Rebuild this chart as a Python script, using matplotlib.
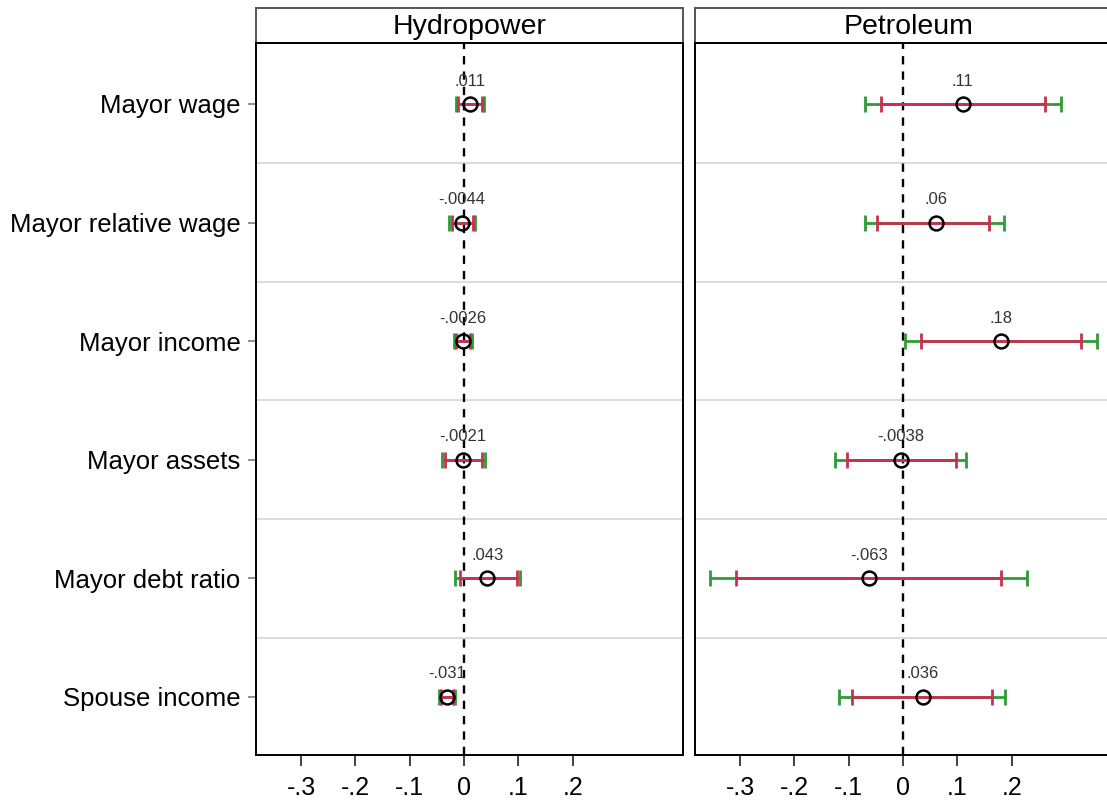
import matplotlib.pyplot as plt
import numpy as np

plt.rcParams['font.family'] = ['Liberation Sans', 'DejaVu Sans']

outcomes = ["Mayor wage", "Mayor relative wage", "Mayor income",
            "Mayor assets", "Mayor debt ratio", "Spouse income"]

# Hydropower
hydro_est = [0.011, -0.0044, -0.0026, -0.0021, 0.043, -0.031]
hydro_lab = [".011", "-.0044", "-.0026", "-.0021", ".043", "-.031"]
hydro_lo95 = [-0.011, -0.022, -0.015, -0.035, -0.007, -0.043]
hydro_hi95 = [0.033, 0.017, 0.010, 0.033, 0.097, -0.020]
hydro_lo90 = [-0.014, -0.027, -0.018, -0.041, -0.016, -0.046]
hydro_hi90 = [0.037, 0.020, 0.014, 0.038, 0.103, -0.016]

# Petroleum
pet_est = [0.11, 0.06, 0.18, -0.0038, -0.063, 0.036]
pet_lab = [".11", ".06", ".18", "-.0038", "-.063", ".036"]
pet_lo95 = [-0.041, -0.048, 0.033, -0.103, -0.308, -0.094]
pet_hi95 = [0.262, 0.159, 0.328, 0.098, 0.181, 0.164]
pet_lo90 = [-0.070, -0.070, 0.003, -0.125, -0.356, -0.118]
pet_hi90 = [0.290, 0.185, 0.357, 0.116, 0.229, 0.188]

xticks = [-0.3, -0.2, -0.1, 0, 0.1, 0.2]
xticklabels = ["-.3", "-.2", "-.1", "0", ".1", ".2"]

red = "#C8304F"
green = "#2E9B35"

W, H = 1107, 802
fig = plt.figure(figsize=(W / 100, H / 100), dpi=100)

panels = [("Hydropower", 256, hydro_est, hydro_lab, hydro_lo95, hydro_hi95, hydro_lo90, hydro_hi90),
          ("Petroleum", 695, pet_est, pet_lab, pet_lo95, pet_hi95, pet_lo90, pet_hi90)]

pw = 427
top, bot, head_top = 43, 755, 8
ys = np.arange(1, len(outcomes) + 1)

for i, (name, x0, est, lab, lo95, hi95, lo90, hi90) in enumerate(panels):
    ax = fig.add_axes([x0 / W, (H - bot) / H, pw / W, (bot - top) / H])
    ax.set_xlim(-0.383, 0.403)
    ax.set_ylim(6.49, 0.486)
    for s in range(1, len(outcomes)):
        ax.axhline(s + 0.5, color="#d9d9d9", lw=1.3, zorder=0)
    ax.axvline(0, color="black", ls=(0, (3.5, 3)), lw=1.7, zorder=1)
    est = np.array(est)
    ax.errorbar(est, ys, xerr=[est - np.array(lo90), np.array(hi90) - est], fmt="none",
                ecolor=green, elinewidth=2, capsize=6, capthick=2, zorder=2)
    ax.errorbar(est, ys, xerr=[est - np.array(lo95), np.array(hi95) - est], fmt="none",
                ecolor=red, elinewidth=2, capsize=6, capthick=2, zorder=3)
    ax.plot(est, ys, "o", mfc="none", mec="black", mew=1.8, ms=10, zorder=4)
    for x, y, t in zip(est, ys, lab):
        ax.text(x, y - 0.13, t, ha="center", va="bottom", fontsize=12, color="#333333", zorder=5)
    ax.set_xticks(xticks)
    ax.set_xticklabels(xticklabels, fontsize=18)
    ax.tick_params(axis="x", length=8, width=1.3, pad=7, color="#333333")
    ax.set_yticks(ys)
    if i == 0:
        ax.set_yticklabels(outcomes, fontsize=18.5)
        ax.tick_params(axis="y", length=6, width=1.3, color="#888888", pad=5)
    else:
        ax.set_yticklabels([])
        ax.tick_params(axis="y", length=0)
    for sp in ax.spines.values():
        sp.set_linewidth(1.4)
        sp.set_color("black")

    hax = fig.add_axes([x0 / W, (H - top) / H, pw / W, (top - head_top) / H])
    hax.set_xticks([])
    hax.set_yticks([])
    for sp in hax.spines.values():
        sp.set_linewidth(1.4)
        sp.set_color("#555555")
    hax.spines["bottom"].set_color("black")
    hax.text(0.5, 0.45, name, ha="center", va="center", fontsize=20.5, transform=hax.transAxes)

fig.savefig("out.png", dpi=100)
